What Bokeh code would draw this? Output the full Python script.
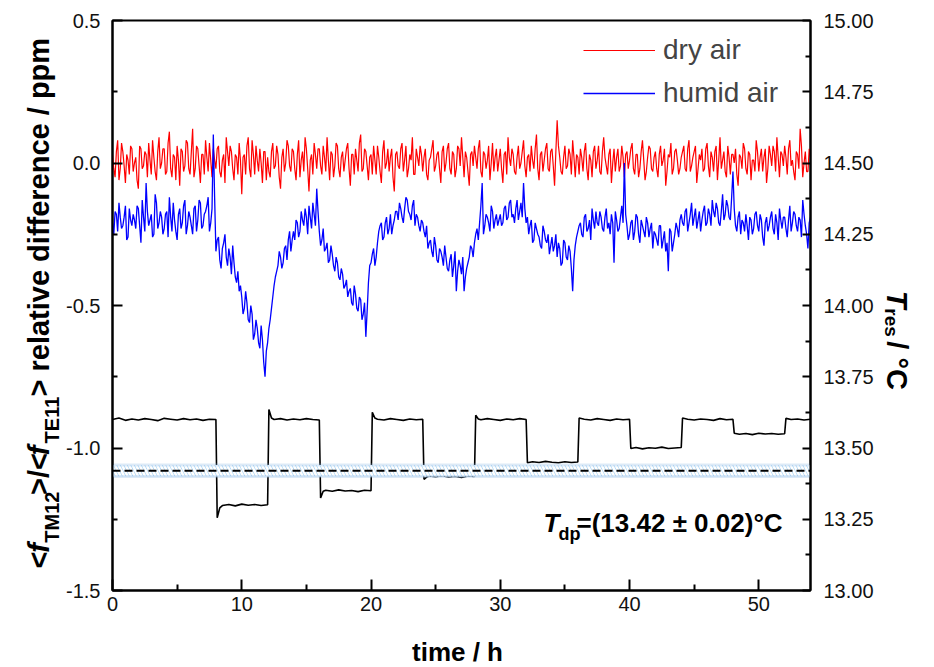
import math
from bokeh.plotting import figure
from bokeh.layouts import row, column
from bokeh.models import (Range1d, LinearAxis, FixedTicker, PrintfTickFormatter,
                          Label, Legend, LegendItem, Span, BoxAnnotation)
from bokeh.embed import file_html
from bokeh.resources import INLINE

# ---------------- data ----------------
# readings at t = 0.0, 0.2, ... 54.0 h
dry_air_even = [
    0.03, -0.05, 0.08, -0.02, 0.04, -0.07, 0.01, 0.06, -0.03, 0.02,
    -0.09, 0.05, -0.01, 0.03, 0.07, -0.04, 0.02, -0.06, 0.09, 0.00,
    0.05, -0.03, 0.11, -0.05, 0.02, 0.06, -0.08, 0.04, -0.01, 0.07,
    -0.04, 0.12, -0.02, 0.05, -0.07, 0.03, 0.08, -0.03, 0.01, 0.05,
    -0.02, 0.06, -0.05, 0.03, 0.09, -0.01, 0.04, -0.06, 0.02, 0.07,
    -0.11, 0.03, 0.06, -0.02, 0.08, -0.04, 0.01, 0.05, -0.07, 0.04,
    0.02, -0.05, 0.07, -0.01, 0.03, -0.09, 0.05, 0.00, 0.06, -0.03,
    0.04, -0.06, 0.08, 0.01, -0.03, 0.05, -0.10, 0.03, 0.07, -0.02,
    0.05, -0.04, 0.02, 0.09, -0.06, 0.03, -0.01, 0.06, -0.05, 0.04,
    0.01, 0.07, -0.08, 0.03, 0.05, -0.03, 0.10, -0.02, 0.04, -0.06,
    0.03, 0.06, -0.04, 0.02, -0.07, 0.08, 0.00, -0.03, 0.05, -0.10,
    0.04, -0.02, 0.07, 0.01, -0.05, 0.03, 0.09, -0.04, 0.02, 0.06,
    -0.03, 0.05, -0.06, 0.02, 0.08, -0.01, 0.04, -0.07, 0.06, 0.00,
    0.07, -0.04, 0.03, -0.02, 0.05, 0.09, -0.05, 0.02, -0.08, 0.04,
    0.06, -0.02, 0.08, -0.05, 0.03, 0.01, -0.06, 0.07, 0.02, -0.03,
    0.05, -0.07, 0.04, 0.09, -0.01, 0.03, -0.04, 0.06, 0.00, 0.08,
    -0.05, 0.03, 0.06, -0.02, 0.10, -0.06, 0.04, 0.01, 0.07, -0.03,
    0.05, -0.08, 0.15, 0.02, -0.04, 0.06, -0.01, 0.03, 0.08, -0.05,
    0.02, 0.05, -0.03, 0.07, -0.06, 0.01, 0.04, -0.02, 0.06, -0.04,
    0.09, -0.01, 0.03, -0.07, 0.05, 0.02, -0.03, 0.06, -0.05, 0.04,
    0.01, 0.07, -0.04, 0.03, -0.02, 0.08, -0.06, 0.02, 0.05, -0.03,
    0.04, -0.05, 0.06, 0.01, -0.08, 0.03, 0.07, -0.02, 0.05, -0.04,
    0.02, 0.06, -0.03, 0.08, -0.01, 0.04, -0.07, 0.03, 0.05, -0.02,
    0.07, -0.05, 0.02, 0.04, -0.06, 0.09, 0.01, -0.03, 0.06, -0.04,
    0.03, 0.05, -0.08, 0.02, 0.07, -0.02, 0.04, -0.06, 0.01, 0.08,
    -0.03, 0.05, 0.02, -0.07, 0.06, -0.01, 0.04, 0.09, -0.05, 0.03,
    0.06, -0.04, 0.08, 0.01, -0.06, 0.03, 0.12, -0.05, 0.04, -0.03,
    0.02,
]
# readings at t = 0.1, 0.3, ... 53.9 h
dry_air_odd = [
    -0.02, 0.04, -0.06, 0.07, -0.01, 0.03, -0.04, 0.05, 0.00, -0.06,
    0.06, -0.02, 0.04, -0.05, 0.01, 0.08, -0.03, 0.04, -0.02, 0.05,
    -0.04, 0.07, -0.02, 0.03, -0.06, 0.01, 0.05, -0.03, 0.08, -0.02,
    0.04, -0.05, 0.06, -0.01, 0.03, -0.04, 0.02, 0.07, -0.05, 0.01,
    0.05, -0.03, 0.01, -0.07, 0.04, 0.06, -0.02, 0.03, -0.04, 0.01,
    0.02, -0.04, 0.09, -0.05, 0.03, 0.06, -0.03, 0.00, 0.04, -0.06,
    -0.03, 0.04, -0.02, 0.06, -0.05, 0.02, -0.03, 0.08, -0.01, 0.05,
    -0.02, 0.03, -0.05, 0.04, 0.09, -0.02, 0.01, -0.04, 0.03, 0.05,
    -0.01, 0.06, -0.03, 0.01, 0.04, -0.05, 0.07, -0.02, 0.02, -0.03,
    0.05, -0.02, 0.03, -0.04, 0.01, 0.07, -0.03, 0.05, -0.01, 0.02,
    -0.04, 0.01, 0.06, -0.03, 0.04, -0.02, 0.05, 0.02, -0.05, 0.03,
    -0.01, 0.05, -0.03, 0.06, -0.02, 0.01, -0.04, 0.05, -0.01, 0.03,
    0.02, -0.04, 0.01, 0.05, -0.03, 0.03, -0.02, 0.04, -0.03, 0.05,
    -0.02, 0.04, -0.05, 0.06, -0.01, 0.02, 0.04, -0.03, 0.03, -0.01,
    0.02, 0.05, -0.03, 0.04, -0.02, 0.06, 0.00, -0.03, 0.05, 0.01,
    -0.02, 0.03, -0.04, 0.02, 0.05, -0.03, 0.02, -0.02, 0.04, -0.01,
    0.02, -0.03, 0.01, 0.05, -0.02, 0.03, -0.03, 0.05, -0.02, 0.04,
    -0.01, 0.04, 0.06, -0.03, 0.02, -0.02, 0.05, -0.04, 0.02, 0.03,
    -0.04, 0.02, 0.04, -0.02, 0.03, -0.05, 0.06, 0.01, -0.03, 0.04,
    0.02, -0.04, 0.05, 0.00, -0.03, 0.05, -0.01, 0.02, 0.03, -0.02,
    0.05, -0.02, 0.03, -0.05, 0.04, 0.01, -0.03, 0.06, -0.02, 0.02,
    -0.02, 0.03, -0.01, 0.05, -0.03, 0.02, -0.04, 0.04, 0.01, -0.02,
    0.04, -0.02, 0.05, -0.03, 0.02, 0.06, -0.02, 0.01, -0.03, 0.05,
    -0.01, 0.04, -0.03, 0.06, 0.01, -0.02, 0.04, -0.05, 0.02, 0.03,
    0.00, -0.04, 0.03, -0.02, 0.05, -0.04, 0.03, 0.01, -0.03, 0.04,
    0.02, -0.03, 0.05, -0.02, 0.03, 0.06, -0.03, 0.02, 0.04, -0.01,
    0.02, 0.05, -0.01, -0.03, 0.04, -0.02, 0.06, 0.00, -0.03, 0.05,
]

humid_air_even = [
    -0.21, -0.17, -0.24, -0.19, -0.22, -0.15, -0.26, -0.20, -0.18, -0.23,
    -0.16, -0.28, -0.19, -0.07, -0.22, -0.18, -0.25, -0.14, -0.21, -0.19,
    -0.23, -0.17, -0.12, -0.24, -0.20, -0.27, -0.16, -0.21, -0.13, -0.22,
    -0.19, -0.25, -0.15, -0.20, -0.14, -0.22, -0.17, -0.12, -0.21, 0.10,
    -0.31, -0.26, -0.37, -0.28, -0.33, -0.30, -0.39, -0.35, -0.42, -0.45,
    -0.47, -0.51, -0.49, -0.56, -0.53, -0.60, -0.58, -0.65, -0.62, -0.75,
    -0.63, -0.55, -0.47, -0.40, -0.36, -0.33, -0.35, -0.29, -0.27, -0.31,
    -0.24, -0.20, -0.26, -0.17, -0.22, -0.19, -0.15, -0.23, -0.18, -0.09,
    -0.24, -0.27, -0.31, -0.28, -0.34, -0.32, -0.38, -0.35, -0.41, -0.39,
    -0.43, -0.47, -0.44, -0.50, -0.46, -0.52, -0.48, -0.53, -0.61, -0.42,
    -0.35, -0.30, -0.33, -0.24, -0.21, -0.26, -0.19, -0.23, -0.25, -0.20,
    -0.17, -0.14, -0.19, -0.16, -0.13, -0.18, -0.15, -0.22, -0.19, -0.24,
    -0.21, -0.26, -0.30, -0.27, -0.33, -0.29, -0.35, -0.31, -0.36, -0.33,
    -0.38, -0.32, -0.36, -0.45, -0.34, -0.39, -0.45, -0.37, -0.33, -0.30,
    -0.28, -0.23, -0.21, -0.07, -0.22, -0.19, -0.24, -0.17, -0.20, -0.22,
    -0.18, -0.21, -0.15, -0.19, -0.13, -0.18, -0.16, -0.20, -0.14, -0.07,
    -0.21, -0.25, -0.20, -0.27, -0.23, -0.26, -0.30, -0.24, -0.28, -0.32,
    -0.26, -0.29, -0.33, -0.30, -0.35, -0.28, -0.34, -0.31, -0.45, -0.29,
    -0.24, -0.21, -0.26, -0.18, -0.23, -0.27, -0.20, -0.17, -0.22, -0.19,
    -0.24, -0.16, -0.21, -0.18, -0.35, -0.20, -0.23, -0.15, 0.00, -0.22,
    -0.25, -0.20, -0.24, -0.19, -0.28, -0.22, -0.26, -0.21, -0.23, -0.30,
    -0.25, -0.29, -0.22, -0.27, -0.31, -0.38, -0.24, -0.28, -0.21, -0.26,
    -0.18, -0.22, -0.16, -0.21, -0.14, -0.19, -0.23, -0.17, -0.20, -0.15,
    -0.21, -0.18, -0.13, -0.19, -0.16, -0.22, -0.11, -0.18, -0.15, -0.20,
    -0.03, -0.22, -0.19, -0.25, -0.21, -0.18, -0.27, -0.20, -0.23, -0.17,
    -0.24, -0.20, -0.29, -0.19, -0.22, -0.17, -0.25, -0.21, -0.16, -0.23,
    -0.19, -0.26, -0.15, -0.21, -0.18, -0.24, -0.20, -0.13, -0.22, -0.30,
    -0.19,
]
humid_air_odd = [
    -0.25, -0.18, -0.14, -0.23, -0.19, -0.27, -0.16, -0.22, -0.20, -0.15,
    -0.22, -0.13, -0.24, -0.17, -0.20, -0.26, -0.11, -0.23, -0.17, -0.25,
    -0.18, -0.26, -0.19, -0.14, -0.24, -0.18, -0.23, -0.15, -0.25, -0.17,
    -0.22, -0.16, -0.24, -0.13, -0.23, -0.18, -0.15, -0.24, -0.16, -0.12,
    -0.27, -0.34, -0.30, -0.25, -0.36, -0.33, -0.29, -0.40, -0.38, -0.43,
    -0.53, -0.45, -0.55, -0.50, -0.62, -0.55, -0.63, -0.57, -0.70, -0.66,
    -0.58, -0.51, -0.43, -0.38, -0.31, -0.37, -0.30, -0.34, -0.24, -0.27,
    -0.27, -0.21, -0.24, -0.20, -0.16, -0.25, -0.19, -0.14, -0.22, -0.17,
    -0.29, -0.23, -0.30, -0.35, -0.29, -0.36, -0.33, -0.40, -0.37, -0.44,
    -0.41, -0.45, -0.49, -0.43, -0.51, -0.47, -0.55, -0.49, -0.52, -0.36,
    -0.32, -0.36, -0.28, -0.22, -0.27, -0.21, -0.25, -0.18, -0.22, -0.17,
    -0.20, -0.16, -0.21, -0.12, -0.17, -0.20, -0.13, -0.18, -0.22, -0.20,
    -0.24, -0.22, -0.28, -0.31, -0.26, -0.34, -0.30, -0.33, -0.29, -0.37,
    -0.34, -0.40, -0.31, -0.38, -0.36, -0.33, -0.40, -0.35, -0.29, -0.33,
    -0.25, -0.27, -0.15, -0.25, -0.18, -0.21, -0.15, -0.23, -0.18, -0.20,
    -0.22, -0.16, -0.20, -0.14, -0.19, -0.21, -0.13, -0.17, -0.19, -0.16,
    -0.19, -0.22, -0.28, -0.21, -0.25, -0.29, -0.22, -0.27, -0.25, -0.29,
    -0.31, -0.25, -0.28, -0.36, -0.27, -0.33, -0.29, -0.37, -0.34, -0.26,
    -0.22, -0.25, -0.19, -0.24, -0.20, -0.16, -0.23, -0.21, -0.17, -0.23,
    -0.19, -0.23, -0.25, -0.21, -0.17, -0.24, -0.19, -0.21, -0.18, -0.27,
    -0.21, -0.27, -0.18, -0.25, -0.20, -0.24, -0.19, -0.26, -0.21, -0.24,
    -0.27, -0.22, -0.30, -0.24, -0.28, -0.23, -0.31, -0.25, -0.23, -0.20,
    -0.21, -0.17, -0.24, -0.18, -0.22, -0.16, -0.20, -0.24, -0.17, -0.22,
    -0.16, -0.22, -0.17, -0.14, -0.21, -0.17, -0.20, -0.13, -0.19, -0.12,
    -0.16, -0.24, -0.17, -0.20, -0.24, -0.22, -0.19, -0.25, -0.18, -0.22,
    -0.18, -0.26, -0.21, -0.24, -0.19, -0.23, -0.18, -0.27, -0.20, -0.19,
    -0.23, -0.20, -0.24, -0.17, -0.22, -0.19, -0.26, -0.18, -0.25, -0.21,
]

temp_time = [0, 0.5, 1, 1.5, 2, 2.5, 3, 3.5, 4, 4.5, 5, 5.5, 6, 6.5, 7, 7.5, 8.0,
             8.1, 8.3, 8.5, 9, 9.5, 10, 10.5, 11, 11.5, 12.0,
             12.1, 12.3, 12.5, 13, 13.5, 14, 14.5, 15, 15.5, 16.0,
             16.1, 16.3, 16.5, 17, 17.5, 18, 18.5, 19, 19.5, 20.0,
             20.1, 20.3, 20.5, 21, 21.5, 22, 22.5, 23, 23.5, 24.0,
             24.1, 24.3, 24.5, 25, 25.5, 26, 26.5, 27, 27.5, 28.0,
             28.1, 28.3, 28.5, 29, 29.5, 30, 30.5, 31, 31.5, 32.0,
             32.1, 32.5, 33, 33.5, 34, 34.5, 35, 35.5, 36.0,
             36.1, 36.5, 37, 37.5, 38, 38.5, 39, 39.5, 40.0,
             40.1, 40.5, 41, 41.5, 42, 42.5, 43, 43.5, 44.0,
             44.1, 44.5, 45, 45.5, 46, 46.5, 47, 47.5, 48.0,
             48.1, 48.5, 49, 49.5, 50, 50.5, 51, 51.5, 52.0,
             52.1, 52.5, 53, 53.5, 54.0]
temp_res = [13.600, 13.605, 13.597, 13.602, 13.598, 13.603, 13.600, 13.596, 13.604,
            13.601, 13.598, 13.603, 13.599, 13.602, 13.597, 13.601, 13.600,
            13.255, 13.290, 13.298, 13.302, 13.297, 13.303, 13.299, 13.302, 13.298, 13.301,
            13.635, 13.605, 13.600, 13.603, 13.598, 13.602, 13.599, 13.603, 13.600, 13.598,
            13.325, 13.348, 13.352, 13.348, 13.353, 13.349, 13.351, 13.347, 13.352, 13.350,
            13.625, 13.605, 13.601, 13.598, 13.603, 13.600, 13.597, 13.602, 13.599, 13.601,
            13.390, 13.398, 13.402, 13.399, 13.403, 13.398, 13.401, 13.397, 13.402, 13.400,
            13.615, 13.602, 13.599, 13.603, 13.600, 13.597, 13.602, 13.599, 13.603, 13.600,
            13.448, 13.452, 13.449, 13.453, 13.450, 13.448, 13.452, 13.449, 13.451,
            13.605, 13.601, 13.598, 13.603, 13.600, 13.597, 13.602, 13.599, 13.601,
            13.498, 13.502, 13.497, 13.501, 13.499, 13.503, 13.498, 13.500, 13.502,
            13.605, 13.601, 13.598, 13.602, 13.600, 13.597, 13.603, 13.599, 13.601,
            13.552, 13.548, 13.551, 13.547, 13.552, 13.549, 13.551, 13.548, 13.550,
            13.604, 13.600, 13.602, 13.598, 13.601]

t_dp = 13.42
t_dp_unc = 0.02

x_ticks = [0, 10, 20, 30, 40, 50]
x_minor = [5, 15, 25, 35, 45]
left_ticks = [-1.5, -1.0, -0.5, 0.0, 0.5]
left_minor = [-1.25, -0.75, -0.25, 0.25]
right_ticks = [13.0, 13.25, 13.5, 13.75, 14.0, 14.25, 14.5, 14.75, 15.0]
right_minor = [13.125, 13.375, 13.625, 13.875, 14.125, 14.375, 14.625, 14.875]

assert len(dry_air_even) == 271 and len(dry_air_odd) == 270
assert len(humid_air_even) == 271 and len(humid_air_odd) == 270
assert len(temp_time) == len(temp_res)


def merge(even, odd):
    out = []
    for i, v in enumerate(even):
        out.append(v)
        if i < len(odd):
            out.append(odd[i])
    return out


t_grid = [i / 10 for i in range(541)]
dry_air = merge(dry_air_even, dry_air_odd)
humid_air = merge(humid_air_even, humid_air_odd)

FONT = "Liberation Sans"

# ---------------- geometry (page pixels) ----------------
H_ROW = 620               # height of the row holding the plot
H_BOT = 46                # strip under it for the x title
X_LEFT_END = 62           # left title strip: 0 .. 62
X_MAIN_END = 876          # main plot: 62 .. 876
X_RIGHT_END = 924         # right title strip: 876 .. 924
FL, FR, FT, FB = 112, 812, 20, 590   # frame edges

# ---------------- main figure ----------------
p = figure(width=X_MAIN_END - X_LEFT_END, height=H_ROW, output_backend="svg",
           toolbar_location=None, x_range=Range1d(0, 54), y_range=Range1d(-1.5, 0.5),
           min_border_left=FL - X_LEFT_END, min_border_right=X_MAIN_END - FR,
           min_border_top=FT, min_border_bottom=H_ROW - FB,
           x_axis_type=None, y_axis_type=None)
p.extra_y_ranges = {"temp": Range1d(13.0, 15.0)}
p.xgrid.visible = False
p.ygrid.visible = False
p.outline_line_color = "black"
p.outline_line_width = 2
p.background_fill_color = "white"
p.border_fill_color = "white"


def style_axis(ax, ticks, minor, fmt, tin, min_in, standoff):
    ax.ticker = FixedTicker(ticks=ticks, minor_ticks=minor)
    ax.formatter = PrintfTickFormatter(format=fmt)
    ax.axis_line_width = 2
    ax.axis_line_color = "black"
    ax.major_tick_in = tin
    ax.major_tick_out = 0
    ax.minor_tick_in = min_in
    ax.minor_tick_out = 0
    ax.major_tick_line_width = 2
    ax.minor_tick_line_width = 2
    ax.major_label_text_font = FONT
    ax.major_label_text_font_size = "20px"
    ax.major_label_text_color = "#111111"
    ax.major_label_standoff = standoff


xax = LinearAxis()
style_axis(xax, x_ticks, x_minor, "%d", 11, 6, 6)
p.add_layout(xax, "below")

yl = LinearAxis()
style_axis(yl, left_ticks, left_minor, "%.1f", 10, 5, 12)
p.add_layout(yl, "left")

yr = LinearAxis(y_range_name="temp")
style_axis(yr, right_ticks, right_minor, "%.2f", 8, 5, 13)
p.add_layout(yr, "right")

# ---------------- data lines ----------------
r_temp = p.line(temp_time, temp_res, y_range_name="temp", line_color="black",
                line_width=1.6)

band = BoxAnnotation(bottom=t_dp - t_dp_unc, top=t_dp + t_dp_unc, y_range_name="temp",
                     fill_color="#a9d4f5", fill_alpha=1.0,
                     hatch_pattern="\\", hatch_color="white", hatch_weight=2.5,
                     hatch_scale=7, line_color="#8db8e3", line_width=3, level="glyph")
p.add_layout(band)
p.add_layout(Span(location=t_dp, dimension="width", y_range_name="temp",
                  line_color="black", line_width=2, line_dash="8 4", level="glyph"))

r_dry = p.line(t_grid, dry_air, line_color="#ff0000", line_width=1.2)
r_hum = p.line(t_grid, humid_air, line_color="#0000ff", line_width=1.3)

# legend: location is the legend's bottom-left corner, from the frame's bottom-left
legend = Legend(items=[LegendItem(label="dry air", renderers=[r_dry]),
                       LegendItem(label="humid air", renderers=[r_hum])],
                location=(583 - FL, FB - 111), margin=0, padding=0, spacing=7,
                glyph_width=72, glyph_height=36, label_height=36, label_standoff=8,
                label_text_font=FONT, label_text_font_size="28px",
                border_line_color=None, background_fill_alpha=0)
p.add_layout(legend)


def lab_frame(px, py, text, size, style="bold"):
    # screen units relative to the main frame
    p.add_layout(Label(x=px - FL, y=FB - py, x_units="screen", y_units="screen",
                       text=text, text_font=FONT, text_font_size=size,
                       text_font_style=style, text_align="left",
                       text_baseline="alphabetic", text_color="black"))


# dew point annotation
lab_frame(543, 522, "T", "26px", "bold italic")
lab_frame(558, 533, "dp", "18px", "bold")
lab_frame(576, 522, "=(%.2f \u00b1 %.2f)\u00b0C" % (t_dp, t_dp_unc), "26px", "bold")


# ---------------- strips for the axis titles (data coords = page pixels) ----------------
def strip(x0, x1, y0, y1):
    f = figure(width=x1 - x0, height=y1 - y0, output_backend="svg",
               toolbar_location=None,
               x_range=Range1d(x0, x1), y_range=Range1d(y1, y0),
               min_border=0, min_border_left=0, min_border_right=0,
               min_border_top=0, min_border_bottom=0,
               x_axis_type=None, y_axis_type=None)
    f.outline_line_color = None
    f.background_fill_color = "white"
    f.border_fill_color = "white"
    f.xgrid.visible = False
    f.ygrid.visible = False
    return f


def lab(f, px, py, text, size, style, angle=0.0, align="left"):
    f.add_layout(Label(x=px, y=py, text=text, angle=angle, text_font=FONT,
                       text_font_size=size, text_font_style=style,
                       text_align=align, text_baseline="alphabetic",
                       text_color="black"))


left = strip(0, X_LEFT_END, 0, H_ROW)
up = math.pi / 2
mx, sx = 38, 51
lab(left, mx, 596, "<", "29px", "bold", up)
lab(left, mx, 579, "f", "29px", "bold italic", up)
lab(left, sx, 568, "TM12", "20px", "bold", up)
lab(left, mx, 516, ">/<", "29px", "bold", up)
lab(left, mx, 473, "f", "29px", "bold italic", up)
lab(left, sx, 460, "TE11", "20px", "bold", up)
lab(left, mx, 409, "> relative difference / ppm", "29px", "bold", up)

right = strip(X_MAIN_END, X_RIGHT_END, 0, H_ROW)
dn = -math.pi / 2
lab(right, 896, 294, "T", "29px", "bold italic", dn)
lab(right, 891, 313, "res", "19px", "bold", dn)
lab(right, 896, 349, "/ \u00b0C", "29px", "bold", dn)

bottom = strip(0, X_RIGHT_END, H_ROW, H_ROW + H_BOT)
lab(bottom, 457, 651, "time / h", "26px", "bold", 0.0, "center")

page = column(row(left, p, right, spacing=0), bottom, spacing=0)
open("out.html", "w").write(file_html(page, INLINE))
